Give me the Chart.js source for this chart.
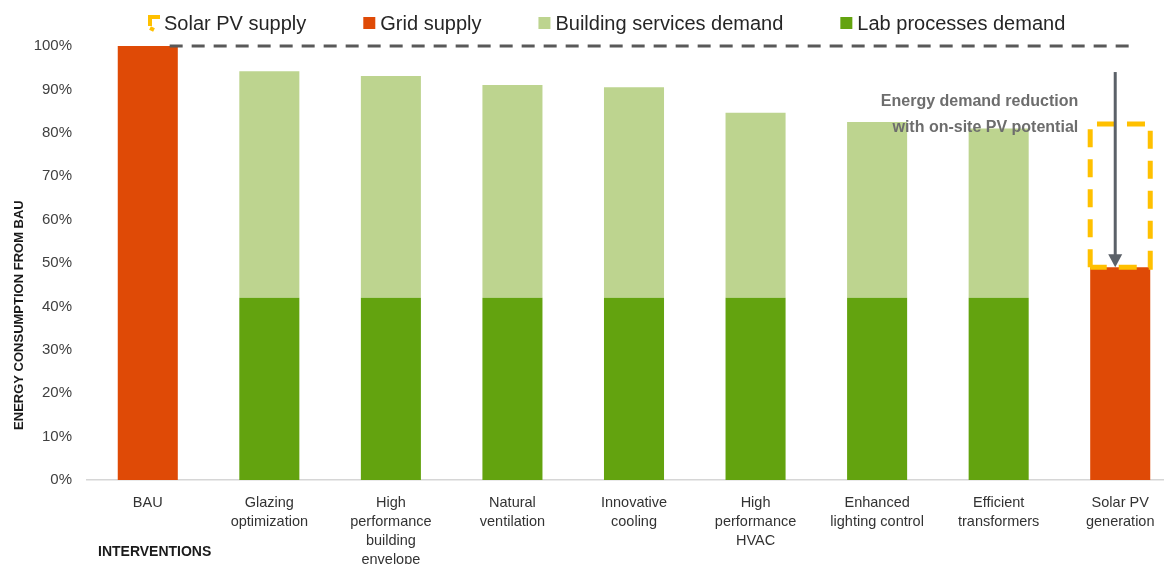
<!DOCTYPE html>
<html><head><meta charset="utf-8">
<script src="https://cdn.jsdelivr.net/npm/chart.js@4"></script>
<style>html,body{margin:0;padding:0;background:#fff;overflow:hidden;}#wrap{width:1181px;height:564px;position:relative}</style>
</head><body><div id="wrap"><canvas id="c"></canvas></div>
<script>
const categories = [["BAU"],["Glazing","optimization"],["High","performance","building","envelope"],["Natural","ventilation"],["Innovative","cooling"],["High","performance","HVAC"],["Enhanced","lighting control"],["Efficient","transformers"],["Solar PV","generation"]];
const labProcesses = [null,42,42,42,42,42,42,42,null];
const buildingServices = [null,52.2,51.1,49.0,48.5,42.6,40.5,39.0,null];
const gridSupply = [100,null,null,null,null,null,null,null,49];
const solarSupply = [null,null,null,null,null,null,null,null,33];
const yTickValues = [0,10,20,30,40,50,60,70,80,90,100];
const legendLabels = ["Solar PV supply","Grid supply","Building services demand","Lab processes demand"];
const baselineValue = 100;
const arrowFrom = 94;
const annotationLines = ["Energy demand reduction","with on-site PV potential"];
const yTitle = "ENERGY CONSUMPTION FROM BAU";
const xTitle = "INTERVENTIONS";

const COL = {lab:'#63a30f', bld:'#bdd48f', grid:'#df4a06', solar:'#ffc000', gray:'#595959', arrow:'#5b6168'};
const FONT = '"Liberation Sans", Arial, sans-serif';

const overlay = {
  id:'overlay',
  afterDatasetsDraw(chart){
    const ctx = chart.ctx, x = chart.scales.x, y = chart.scales.y;
    // dashed outline of solar supply
    const meta = chart.getDatasetMeta(3);
    meta.data.forEach((el,i)=>{
      if (solarSupply[i]==null) return;
      const p = el.getProps(['x','y','base','width'], true);
      ctx.save();
      ctx.strokeStyle = COL.solar; ctx.lineWidth = 5; ctx.setLineDash([18,12]);
      ctx.beginPath();
      ctx.moveTo(p.x - p.width/2, p.base);
      ctx.lineTo(p.x - p.width/2, p.y);
      ctx.lineTo(p.x + p.width/2, p.y);
      ctx.lineTo(p.x + p.width/2, p.base);
      ctx.lineTo(p.x - p.width/2, p.base);
      ctx.stroke();
      ctx.restore();
    });
    // 100% dashed line
    const step = x.getPixelForValue(1) - x.getPixelForValue(0);
    const yb = y.getPixelForValue(baselineValue);
    ctx.save();
    ctx.strokeStyle = COL.gray; ctx.lineWidth = 3; ctx.setLineDash([13,9]);
    ctx.beginPath();
    ctx.moveTo(x.getPixelForValue(0) + step*0.18, yb);
    ctx.lineTo(x.getPixelForValue(8) + step*0.11, yb);
    ctx.stroke();
    ctx.restore();
    // arrow
    const ax = x.getPixelForValue(8) - 5;
    const y0 = y.getPixelForValue(arrowFrom), y1 = y.getPixelForValue(gridSupply[8]);
    ctx.save();
    ctx.strokeStyle = COL.arrow; ctx.fillStyle = COL.arrow; ctx.lineWidth = 3;
    ctx.beginPath(); ctx.moveTo(ax, y0); ctx.lineTo(ax, y1 - 10); ctx.stroke();
    ctx.beginPath(); ctx.moveTo(ax - 7, y1 - 13); ctx.lineTo(ax + 7, y1 - 13); ctx.lineTo(ax, y1); ctx.closePath(); ctx.fill();
    ctx.restore();
    // annotation
    ctx.save();
    ctx.font = 'bold 16px ' + FONT; ctx.fillStyle = '#6d6d6d';
    ctx.textAlign = 'right'; ctx.textBaseline = 'middle';
    const tx = x.getPixelForValue(8) - 42;
    ctx.fillText(annotationLines[0], tx, y.getPixelForValue(87.1));
    ctx.fillText(annotationLines[1], tx, y.getPixelForValue(81.3));
    ctx.restore();
  },
  afterDraw(chart){
    const ctx = chart.ctx, area = chart.chartArea, y = chart.scales.y;
    // legend
    const items = [
      {t:legendLabels[0], c:COL.solar, solar:true},
      {t:legendLabels[1], c:COL.grid},
      {t:legendLabels[2], c:COL.bld},
      {t:legendLabels[3], c:COL.lab}
    ];
    ctx.save();
    ctx.font = '20px ' + FONT; ctx.textBaseline = 'middle'; ctx.textAlign = 'left';
    let lx = 147; const ly = 23;
    items.forEach(it=>{
      if (it.solar){
        ctx.strokeStyle = it.c; ctx.lineWidth = 4;
        ctx.beginPath(); ctx.moveTo(lx+13, ly-6); ctx.lineTo(lx+3, ly-6); ctx.lineTo(lx+3, ly+3); ctx.stroke();
        ctx.beginPath(); ctx.moveTo(lx+3, ly+5); ctx.lineTo(lx+7, ly+7); ctx.stroke();
      } else {
        ctx.fillStyle = it.c; ctx.fillRect(lx, ly-6, 12, 12);
      }
      ctx.fillStyle = '#262626';
      ctx.fillText(it.t, lx+17, ly+1);
      lx += 17 + ctx.measureText(it.t).width + 57;
    });
    // y title
    ctx.font = 'bold 13px ' + FONT; ctx.fillStyle = '#1a1a1a';
    ctx.save();
    ctx.translate(19, y.getPixelForValue(38));
    ctx.rotate(-Math.PI/2); ctx.textAlign = 'center';
    ctx.fillText(yTitle, 0, 0);
    ctx.restore();
    // x title
    ctx.font = 'bold 14px ' + FONT; ctx.textAlign = 'left';
    ctx.fillText(xTitle, area.left + 11, 552);
    ctx.restore();
  }
};

new Chart(document.getElementById('c'), {
  type:'bar',
  data:{
    labels: categories,
    datasets:[
      {label:'Lab processes demand', data:labProcesses, backgroundColor:COL.lab},
      {label:'Building services demand', data:buildingServices, backgroundColor:COL.bld},
      {label:'Grid supply', data:gridSupply, backgroundColor:COL.grid},
      {label:'Solar PV supply', data:solarSupply, backgroundColor:'rgba(0,0,0,0)'}
    ]
  },
  options:{
    responsive:true, maintainAspectRatio:false, animation:false,
    barPercentage:0.494, categoryPercentage:1,
    layout:{padding:{top:46,left:0,right:0,bottom:0}},
    plugins:{legend:{display:false}, tooltip:{enabled:false}},
    scales:{
      x:{stacked:true,
        grid:{display:false, drawTicks:false},
        border:{display:true, color:'#d6d6d6', width:1.5},
        ticks:{font:{family:FONT, size:14.5, lineHeight:19/14.5}, color:'#333', padding:13.5, maxRotation:0, autoSkip:false},
        afterFit(s){ s.height = 84; }
      },
      y:{stacked:true, min:0, max:100,
        grid:{display:false, drawTicks:false},
        border:{display:false},
        afterBuildTicks(s){ s.ticks = yTickValues.map(v=>({value:v})); },
        ticks:{font:{family:FONT, size:15}, color:'#404040', padding:15, callback:v=>v+'%'},
        afterFit(s){ s.width = 87; }
      }
    }
  },
  plugins:[overlay]
});
</script>
</body></html>
